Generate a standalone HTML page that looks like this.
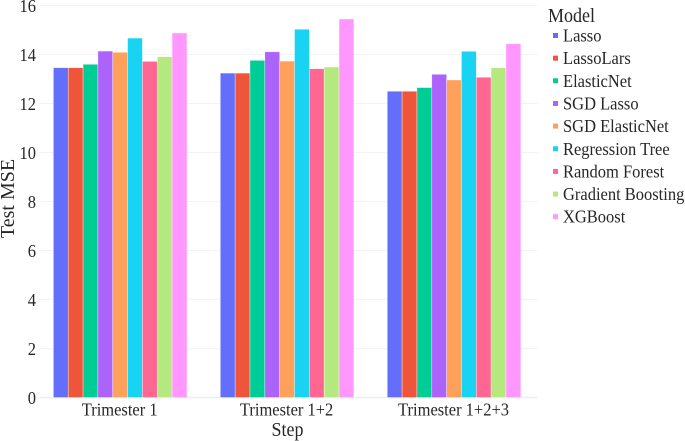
<!DOCTYPE html>
<html>
<head>
<meta charset="utf-8">
<style>
html,body{margin:0;padding:0;background:#fff;}
body{width:685px;height:441px;overflow:hidden;}
svg{display:block;filter:blur(0.35px);}
text{font-family:"Liberation Serif",serif;fill:#262626;}
</style>
</head>
<body>
<svg id="chart" width="685" height="441" viewBox="0 0 685 441" xmlns="http://www.w3.org/2000/svg"></svg>
<script>
const categories = ["Trimester 1", "Trimester 1+2", "Trimester 1+2+3"];
const models = ["Lasso", "LassoLars", "ElasticNet", "SGD Lasso", "SGD ElasticNet", "Regression Tree", "Random Forest", "Gradient Boosting", "XGBoost"];
const colors = ["#636EFA", "#EF553B", "#00CC96", "#AB63FA", "#FFA15A", "#19D3F3", "#FF6692", "#B6E880", "#FF97FF"];
const lasso = [13.46, 13.24, 12.5];
const lassoLars = [13.46, 13.24, 12.5];
const elasticNet = [13.6, 13.76, 12.65];
const sgdLasso = [14.14, 14.11, 13.19];
const sgdElasticNet = [14.09, 13.73, 12.96];
const regressionTree = [14.67, 15.03, 14.13];
const randomForest = [13.72, 13.42, 13.07];
const gradientBoosting = [13.91, 13.49, 13.46];
const xgBoost = [14.88, 15.45, 14.44];
const seriesValues = [lasso, lassoLars, elasticNet, sgdLasso, sgdElasticNet, regressionTree, randomForest, gradientBoosting, xgBoost];
const yTicks = [0, 2, 4, 6, 8, 10, 12, 14, 16];

const NS = "http://www.w3.org/2000/svg";
const svg = document.getElementById("chart");
const plotLeft = 36.7, plotRight = 537.5, plotBottom = 397.5, plotTop = 5.5, yMax = 16;
const bandWidth = (plotRight - plotLeft) / categories.length;
const groupWidth = bandWidth * 0.8;

function yScale(v) { return plotBottom - (v / yMax) * (plotBottom - plotTop); }
function xCenter(i) { return plotLeft + bandWidth * (i + 0.5); }
function make(tag, attrs, parent) {
  const el = document.createElementNS(NS, tag);
  for (const k in attrs) el.setAttribute(k, attrs[k]);
  (parent || svg).appendChild(el);
  return el;
}
function stretched(x, y) { return "translate(" + x + " " + y + ") scale(1 1.1)"; }

yTicks.forEach(function (t) {
  const y = yScale(t);
  const line = make("line", {x1: 39, x2: plotRight, y1: y, y2: y, stroke: t === 0 ? "#EBF0F8" : "#F1F3F8", "stroke-width": t === 0 ? 1.4 : 1});
  
  
  const label = make("text", {transform: stretched(36, y + 6.3), "text-anchor": "end", "font-size": 16.5});
  label.textContent = t;
  
  
});

seriesValues.forEach(function (vals, s) {
  const barW = groupWidth / models.length;
  vals.forEach(function (v, c) {
    const x = xCenter(c) - groupWidth / 2 + s * barW;
    const y = yScale(v);
    const bar = make("rect", {x: x, y: y, width: barW, height: plotBottom - y, fill: colors[s], stroke: "#ffffff", "stroke-opacity": 0.6, "stroke-width": 0.6});
    
    
  });
});

categories.forEach(function (c, i) {
  const label = make("text", {transform: stretched(xCenter(i) - 0.5, 415.5), "text-anchor": "middle", "font-size": 16.5});
  label.textContent = c;
  
  
});

const xTitle = make("text", {transform: stretched(287.5, 436), "text-anchor": "middle", "font-size": 18});
xTitle.textContent = "Step";



const yTitle = make("text", {x: 0, y: 0, "text-anchor": "middle", "font-size": 20, transform: "translate(14 198.5) rotate(-90)"});
yTitle.textContent = "Test MSE";



const legendTitle = make("text", {transform: stretched(548, 22), "font-size": 18});
legendTitle.textContent = "Model";



models.forEach(function (m, i) {
  const cy = 35.5 + i * 22.65;
  const swatch = make("rect", {x: 553, y: cy - 2.5, width: 5, height: 5, fill: colors[i]});
  
  
  const label = make("text", {transform: stretched(563, cy + 6), "font-size": 16.5});
  label.textContent = m;
  
  
});
</script>
</body>
</html>
